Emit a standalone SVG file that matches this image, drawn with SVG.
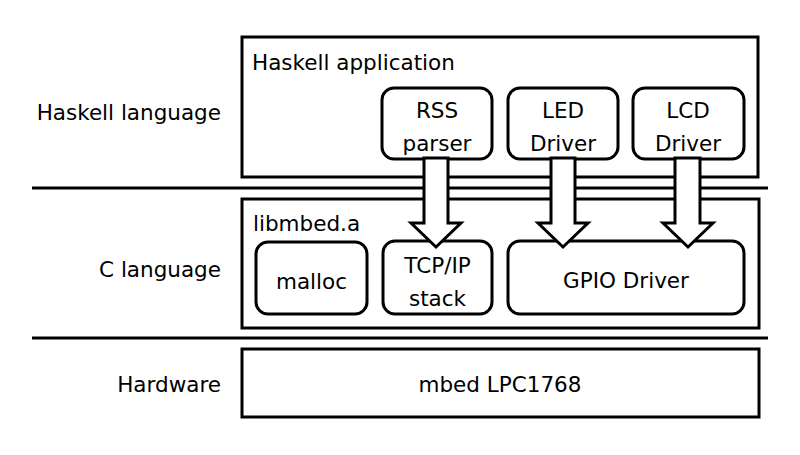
<svg xmlns="http://www.w3.org/2000/svg" width="800" height="455" viewBox="0 0 800 455">
<style>
  text { font-family: "DejaVu Sans", "Noto Sans", sans-serif; font-size: 21.5px; fill: #000; }
  .c { text-anchor: middle; }
  .r { text-anchor: end; }
  .box { fill: #fff; stroke: #000; stroke-width: 3; }
  .rbox { fill: #fff; stroke: #000; stroke-width: 3; }
  .sep { stroke: #000; stroke-width: 3; fill: none; }
  .arrow { fill: #fff; stroke: #000; stroke-width: 3; stroke-linejoin: miter; }
</style>
<rect width="800" height="455" fill="#fff"/>

<g id="layer-labels">
  <text class="r" x="221" y="120">Haskell language</text>
  <text class="r" x="221" y="277">C language</text>
  <text class="r" x="221" y="392">Hardware</text>
</g>

<g id="separators">
  <line class="sep" x1="32" y1="188" x2="768" y2="188"/>
  <line class="sep" x1="32" y1="338" x2="768" y2="338"/>
</g>

<g id="haskell-app">
  <rect class="box" x="242" y="37" width="516" height="140"/>
  <text x="252" y="70">Haskell application</text>
</g>

<g id="rss-parser">
  <rect class="rbox" x="382" y="88" width="110" height="71" rx="12"/>
  <text class="c" x="437" y="118">RSS</text>
  <text class="c" x="437" y="151">parser</text>
</g>

<g id="led-driver">
  <rect class="rbox" x="508" y="88" width="110" height="71" rx="12"/>
  <text class="c" x="563" y="118">LED</text>
  <text class="c" x="563" y="151">Driver</text>
</g>

<g id="lcd-driver">
  <rect class="rbox" x="633" y="88" width="111" height="71" rx="12"/>
  <text class="c" x="688" y="118">LCD</text>
  <text class="c" x="688" y="151">Driver</text>
</g>

<g id="libmbed">
  <rect class="box" x="242" y="199" width="517" height="129"/>
  <text x="253" y="231">libmbed.a</text>
</g>

<g id="malloc">
  <rect class="rbox" x="256" y="242" width="111" height="72" rx="12"/>
  <text class="c" x="311.5" y="289">malloc</text>
</g>

<g id="tcpip-stack">
  <rect class="rbox" x="383" y="241" width="109" height="73" rx="12"/>
  <text class="c" x="437.5" y="273">TCP/IP</text>
  <text class="c" x="437.5" y="306">stack</text>
</g>

<g id="gpio-driver">
  <rect class="rbox" x="508" y="241" width="236" height="73" rx="12"/>
  <text class="c" x="626" y="288">GPIO Driver</text>
</g>

<g id="mbed">
  <rect class="box" x="242" y="349" width="517" height="68"/>
  <text class="c" x="500" y="392">mbed LPC1768</text>
</g>

<g id="connectors">
  <path class="arrow" d="M424,158 V223 H411 L436,247 L461,223 H448 V158 Z"/>
  <path class="arrow" d="M551,158 V223 H538 L563,247 L588,223 H575 V158 Z"/>
  <path class="arrow" d="M675,158 V223 H663 L688,247 L713,223 H700 V158 Z"/>
</g>
</svg>
